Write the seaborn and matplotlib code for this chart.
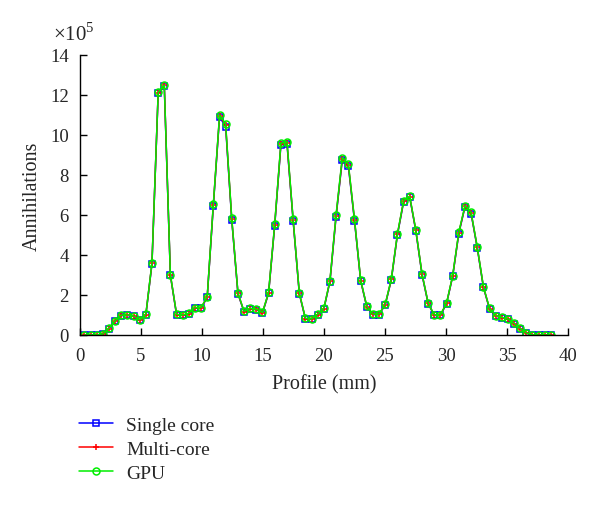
import numpy as np
import pandas as pd
import matplotlib
matplotlib.use('Agg')
import matplotlib.pyplot as plt
import seaborn as sns

# Profile positions (mm)
profile_mm = [0.37, 0.87, 1.38, 1.88, 2.38, 2.89, 3.39, 3.89, 4.39, 4.90,
              5.40, 5.90, 6.41, 6.91, 7.41, 7.92, 8.42, 8.92, 9.42, 9.93,
              10.43, 10.93, 11.44, 11.94, 12.44, 12.95, 13.45, 13.95, 14.45, 14.96,
              15.46, 15.96, 16.47, 16.97, 17.47, 17.98, 18.48, 18.98, 19.48, 19.99,
              20.49, 20.99, 21.50, 22.00, 22.50, 23.01, 23.51, 24.01, 24.51, 25.02,
              25.52, 26.02, 26.53, 27.03, 27.53, 28.04, 28.54, 29.04, 29.54, 30.05,
              30.55, 31.05, 31.56, 32.06, 32.56, 33.07, 33.57, 34.07, 34.57, 35.08,
              35.58, 36.08, 36.59, 37.09, 37.59, 38.10, 38.60]

# Annihilations (x 1e5)
gpu = [0, 0, 0, 0.05, 0.33, 0.72, 1.0, 1.0, 0.95, 0.75,
       1.03, 3.6, 12.13, 12.5, 3.02, 1.03, 1.0, 1.08, 1.37, 1.37,
       1.92, 6.53, 11.0, 10.55, 5.83, 2.1, 1.18, 1.33, 1.3, 1.13,
       2.13, 5.53, 9.6, 9.67, 5.8, 2.1, 0.83, 0.8, 1.03, 1.33,
       2.72, 6.0, 8.87, 8.55, 5.8, 2.75, 1.43, 1.05, 1.05, 1.53,
       2.8, 5.05, 6.72, 6.93, 5.25, 3.05, 1.6, 1.0, 1.0, 1.6,
       2.97, 5.13, 6.47, 6.13, 4.42, 2.42, 1.33, 0.97, 0.88, 0.8,
       0.58, 0.33, 0.1, 0, 0, 0, 0]
single_core = [0, 0, 0, 0.04, 0.31, 0.7, 0.97, 0.98, 0.93, 0.73,
               1.0, 3.55, 12.08, 12.45, 2.98, 1.0, 0.98, 1.05, 1.34, 1.34,
               1.88, 6.45, 10.9, 10.42, 5.75, 2.06, 1.15, 1.3, 1.27, 1.1,
               2.08, 5.45, 9.5, 9.55, 5.72, 2.06, 0.8, 0.78, 1.0, 1.3,
               2.67, 5.9, 8.75, 8.43, 5.72, 2.7, 1.4, 1.02, 1.02, 1.5,
               2.75, 5.0, 6.65, 6.88, 5.2, 3.0, 1.57, 0.98, 0.98, 1.57,
               2.93, 5.07, 6.4, 6.07, 4.37, 2.38, 1.3, 0.95, 0.86, 0.78,
               0.56, 0.31, 0.09, 0, 0, 0, 0]
multi_core = [0, 0, 0, 0.05, 0.32, 0.71, 0.99, 0.99, 0.94, 0.74,
              1.02, 3.58, 12.1, 12.48, 3.0, 1.02, 0.99, 1.07, 1.36, 1.36,
              1.9, 6.5, 10.95, 10.5, 5.8, 2.08, 1.17, 1.32, 1.29, 1.12,
              2.1, 5.5, 9.55, 9.6, 5.76, 2.08, 0.82, 0.79, 1.02, 1.32,
              2.7, 5.95, 8.8, 8.5, 5.76, 2.72, 1.42, 1.04, 1.04, 1.52,
              2.78, 5.03, 6.7, 6.9, 5.23, 3.03, 1.59, 0.99, 0.99, 1.59,
              2.95, 5.1, 6.44, 6.1, 4.4, 2.4, 1.32, 0.96, 0.87, 0.79,
              0.57, 0.32, 0.1, 0, 0, 0, 0]

sns.set_style('ticks')
plt.rcParams['font.family'] = ['Liberation Serif', 'DejaVu Serif']
plt.rcParams['mathtext.fontset'] = 'custom'
plt.rcParams['mathtext.rm'] = 'Liberation Serif'

fig = plt.figure(figsize=(6, 5.06), dpi=100)
ax = fig.add_axes([0.1333, 0.336, 0.8133, 0.5534])

series = [
    ('Single core', single_core, '#0000ff', 's'),
    ('Multi-core', multi_core, '#ff0000', '+'),
    ('GPU', gpu, '#00ee00', 'o'),
]
for name, vals, col, mk in series:
    sns.lineplot(x=profile_mm, y=vals, ax=ax, color=col, marker=mk, markersize=5,
                 markerfacecolor='none', markeredgecolor=col, markeredgewidth=1.1,
                 linewidth=1.1, label=name, legend=False)

ax.set_xlim(0, 40)
ax.set_ylim(0, 14)
ax.set_xticks(range(0, 41, 5))
ax.set_yticks(range(0, 15, 2))
ax.tick_params(direction='in', length=5, width=1, labelsize=13.5, color='black')
ax.tick_params(axis='x', pad=9)
ax.tick_params(axis='y', pad=8)
for s in ['left', 'bottom']:
    ax.spines[s].set_linewidth(1)
    ax.spines[s].set_color('black')
sns.despine(ax=ax)
ax.set_xlabel('Profile (mm)', fontsize=14.5, labelpad=7)
ax.set_ylabel('Annihilations', fontsize=14.5, labelpad=6)
fig.text(0.088, 0.919, r'$\times10^{5}$', fontsize=15, ha='left', va='baseline')

handles, labels = ax.get_legend_handles_labels()
fig.legend(handles, labels, loc='upper left', bbox_to_anchor=(0.118, 0.191),
           frameon=False, fontsize=14, handlelength=1.75, handletextpad=0.7,
           labelspacing=0.33, borderaxespad=0)

fig.savefig('out.png', dpi=100)
